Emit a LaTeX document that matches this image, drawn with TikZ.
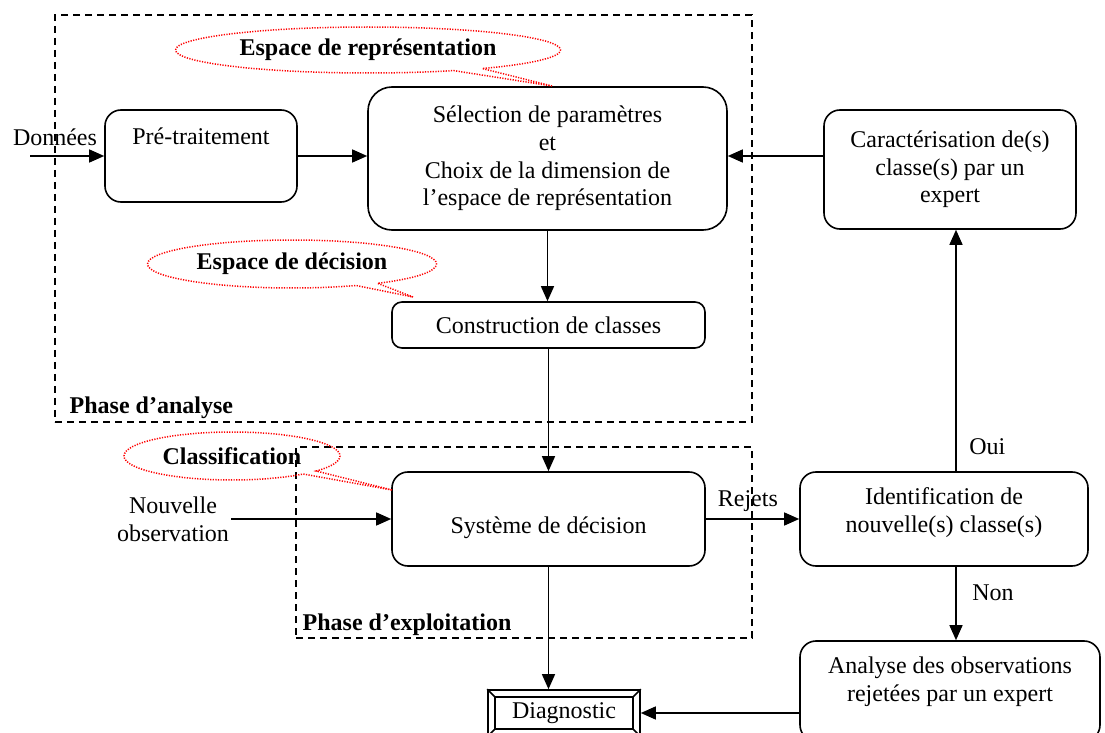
\documentclass[tikz,border=0pt]{standalone}
\usepackage{fontspec}
\setmainfont{Liberation Serif}
\usetikzlibrary{arrows.meta,shapes.callouts}
\newcommand{\taille}{\fontsize{12pt}{13.8pt}\selectfont}

\begin{document}
\begin{tikzpicture}[
    x=0.5pt, y=-0.5pt,
    font=\taille,
    etape/.style={
        rectangle,
        rounded corners=8pt,
        draw=black,
        line width=0.8pt,
        align=center,
        inner sep=2pt
    },
    phase/.style={
        rectangle,
        draw=black,
        line width=0.7pt,
        dash pattern=on 3.5pt off 2.5pt
    },
    bulle/.style={
        ellipse callout,
        draw=red,
        line width=0.75pt,
        dash pattern=on 0.6pt off 0.7pt,
        inner sep=0pt,
        callout pointer arc=10,
        font=\taille\bfseries
    },
    titre/.style={
        inner sep=0pt,
        font=\taille\bfseries
    },
    fleche/.style={
        -{Triangle[length=7.5pt,width=6.5pt]},
        line width=0.7pt,
        draw=black
    }
]
\useasboundingbox (0,0) rectangle (1105,733);

% Cadres des deux phases
\node[phase, minimum width=348.5pt, minimum height=203.5pt] (phaseanalyse) at (403.5,218.5) {};
\node[phase, minimum width=228pt, minimum height=95.5pt] (phaseexploit) at (524,542.5) {};
\node[titre, anchor=south west] (titreanalyse) at ([shift={(7.5pt,2pt)}]phaseanalyse.south west) {Phase d’analyse};
\node[titre, anchor=south west] (titreexploit) at ([shift={(3.5pt,1.5pt)}]phaseexploit.south west) {Phase d’exploitation};

% Etapes
\node[etape, minimum width=96pt, minimum height=46pt, text depth=20pt] (pretrait) at (201,156) {Pré-traitement};
\node[etape, rounded corners=12pt, minimum width=179.5pt, minimum height=71.5pt] (selection) at (547.5,158.5)
    {Sélection de paramètres\\et\\Choix de la dimension de\\l’espace de représentation};
\node[etape, minimum width=126pt, minimum height=59.5pt] (carac) at (950,169.5)
    {Caractérisation de(s)\\classe(s) par un\\expert};
\node[etape, rounded corners=5pt, minimum width=156.5pt, minimum height=23pt] (construction) at (548.5,325) {Construction de classes};
\node[etape, minimum width=156.5pt, minimum height=47pt, text height=17pt] (systeme) at (548.5,519) {Système de décision};
\node[etape, minimum width=144pt, minimum height=47pt, text depth=9pt] (identif) at (944,519)
    {Identification de\\nouvelle(s) classe(s)};
\node[etape, minimum width=150pt, minimum height=50pt, text depth=12pt] (rejetees) at (950,691)
    {Analyse des observations\\rejetées par un expert};

% Diagnostic (cadre biseaute)
\node[draw=black, line width=0.8pt, minimum width=76pt, minimum height=23pt] (diag) at (564,713) {Diagnostic};
\draw[line width=0.8pt] ([shift={(4pt,-4pt)}]diag.north west) rectangle ([shift={(-4pt,4pt)}]diag.south east);
\foreach \coin/\dx/\dy in {north west/4/-4, north east/-4/-4, south west/4/4, south east/-4/4}
    \draw[line width=0.8pt] (diag.\coin) -- ([shift={(\dx pt,\dy pt)}]diag.\coin);

% Entrees
\coordinate (entree) at (30,156);
\node (donnees) at (55,137) {Données};
\node[align=center, inner sep=1pt] (nouvelle) at (173,519) {Nouvelle\\observation};

% Connexions
\draw[fleche] (entree) -- (pretrait);
\draw[fleche] (pretrait.east) -- (pretrait.east -| selection.west);
\draw[fleche] (carac.west |- pretrait.east) -- (selection.east |- pretrait.east);
\draw[fleche] (selection.south) -- (selection.south |- construction.north);
\draw[fleche] (construction) -- (systeme);
\draw[fleche] (nouvelle.east) -- (systeme.west);
\draw[fleche] (systeme) -- node[above, pos=0.45] {Rejets} (identif);
\draw[fleche] ([xshift=6pt]identif.north) -- node[pos=0.1, right=3pt] {Oui} ([xshift=3pt]carac.south);
\draw[fleche] ([xshift=6pt]identif.south) -- node[pos=0.36, right=4.5pt] {Non} ([xshift=3pt]rejetees.north);
\draw[fleche] (systeme.south) -- (systeme.south |- diag.north);
\draw[fleche] (rejetees.west |- diag.east) -- (diag.east);

% Bulles
\node[bulle, minimum width=192.5pt, minimum height=23pt, callout absolute pointer={(552,86)}] (bullerep) at (368,50) {Espace de représentation};
\node[bulle, minimum width=144.5pt, minimum height=24pt, callout absolute pointer={(413,297)}] (bulledec) at (292,264) {Espace de décision};
\node[bulle, minimum width=108pt, minimum height=24pt, callout absolute pointer={(392,490)}] (bulleclass) at (232,456) {Classification};

\end{tikzpicture}
\end{document}
